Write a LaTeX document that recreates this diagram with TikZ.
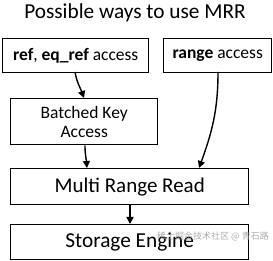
\documentclass[tikz,border=0pt]{standalone}
\usepackage{fontspec}
\setmainfont{Carlito}
\newfontfamily\cjkfont{Noto Sans CJK SC}
\usetikzlibrary{arrows.meta}
\begin{document}
\begin{tikzpicture}[x=1pt,y=-1pt,
  boxstyle/.style={draw=black,line width=1.4pt,inner sep=0pt,anchor=north west},
  arr/.style={line width=1.4pt,-{Triangle[length=7pt,width=7pt]}}]
\useasboundingbox (0,0) rectangle (273,261);
\node[font=\fontsize{21.3}{23}\selectfont] (title) at (135,13) {Possible ways to use MRR};
\node[boxstyle,minimum width=146pt,minimum height=34pt,font=\fontsize{17.5}{19}\selectfont] (refb) at (2,38) {\textbf{ref}, \textbf{eq\_ref} access};
\node[boxstyle,minimum width=108pt,minimum height=34pt,font=\fontsize{17.5}{19}\selectfont] (rangeb) at (163,38) {\textbf{range} access};
\node[boxstyle,minimum width=147pt,minimum height=46pt,font=\fontsize{17.5}{19}\selectfont,align=center] (bka) at (10,98) {Batched Key\\Access};
\node[boxstyle,minimum width=238pt,minimum height=36pt,font=\fontsize{21}{23}\selectfont] (mrr) at (10,168) {Multi Range Read};
\node[boxstyle,minimum width=238pt,minimum height=35pt,font=\fontsize{21.3}{23}\selectfont] (se) at (10,224) {Storage Engine};
\coordinate (a1s) at (75,72);
\coordinate (a1e) at (84,98);
\draw[arr] (a1s) to[out=-80,in=110] (a1e);
\coordinate (a2s) at (218,72);
\coordinate (a2e) at (199,168);
\draw[arr] (a2s) to[out=-90,in=70] (a2e);
\draw[arr] (bka.south -| 85,0) to[out=-90,in=95] (mrr.north -| 87,0);
\draw[arr] (mrr.south -| 130,0) -- (se.north -| 130,0);
\node[font=\cjkfont\fontsize{9}{11}\selectfont,text=black!40,opacity=0.8] (wm) at (213,236) {稀土掘金技术社区 @ 青石路};
\end{tikzpicture}
\end{document}
